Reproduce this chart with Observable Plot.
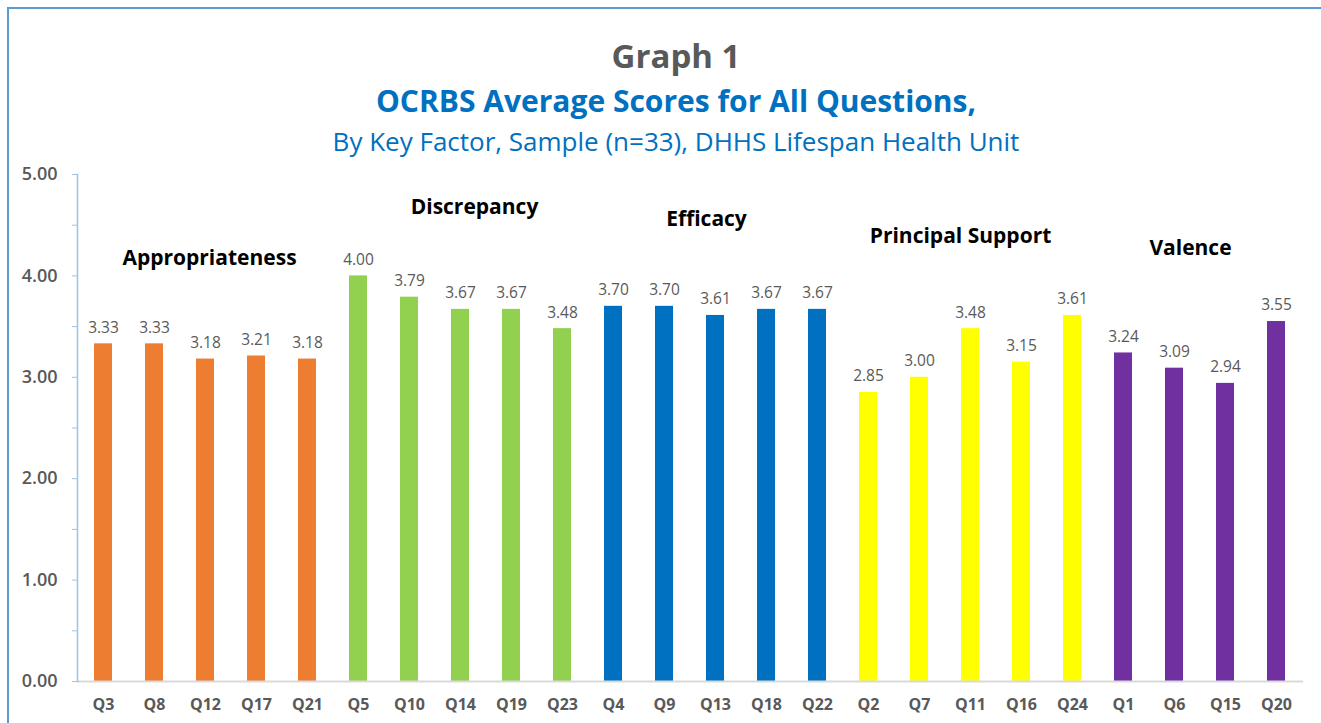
<!DOCTYPE html>
<html><head><meta charset="utf-8">
<script src="https://cdn.jsdelivr.net/npm/d3@7"></script>
<script src="https://cdn.jsdelivr.net/npm/@observablehq/plot@0.6"></script>
<style>
html,body{margin:0;padding:0;background:#fff;width:1321px;height:723px;overflow:hidden;font-family:"Open Sans",sans-serif;}
#wrap{position:relative;width:1321px;height:723px;}
#border{position:absolute;left:7px;top:7px;width:1330px;height:740px;border-top:2px solid #5B9BD5;border-left:2px solid #5B9BD5;box-sizing:border-box;}
.t{position:absolute;left:0;width:1352px;text-align:center;white-space:nowrap;line-height:1.2;}
#t1{top:36px;font-size:33px;font-weight:700;color:#595959;}
#t2{top:83px;font-size:30px;font-weight:700;color:#0070C0;}
#t3{top:126px;font-size:26px;font-weight:400;color:#0070C0;}
#chart{position:absolute;left:0;top:150px;}
</style></head>
<body><div id="wrap"><div id="border"></div>
<div class="t" id="t1">Graph 1</div>
<div class="t" id="t2">OCRBS Average Scores for All Questions,</div>
<div class="t" id="t3">By Key Factor, Sample (n=33), DHHS Lifespan Health Unit</div>
<div id="chart"></div></div>
<script>
const questions = ["Q3","Q8","Q12","Q17","Q21","Q5","Q10","Q14","Q19","Q23","Q4","Q9","Q13","Q18","Q22","Q2","Q7","Q11","Q16","Q24","Q1","Q6","Q15","Q20"];
const factors = ["Appropriateness","Appropriateness","Appropriateness","Appropriateness","Appropriateness","Discrepancy","Discrepancy","Discrepancy","Discrepancy","Discrepancy","Efficacy","Efficacy","Efficacy","Efficacy","Efficacy","Principal Support","Principal Support","Principal Support","Principal Support","Principal Support","Valence","Valence","Valence","Valence"];
const scores = [3.33,3.33,3.18,3.21,3.18,4.00,3.79,3.67,3.67,3.48,3.70,3.70,3.61,3.67,3.67,2.85,3.00,3.48,3.15,3.61,3.24,3.09,2.94,3.55];
const factorNames = ["Appropriateness","Discrepancy","Efficacy","Principal Support","Valence"];
const factorColors = ["#ED7D31","#92D050","#0070C0","#FFFF00","#7030A0"];
const labelAnchorQ = ["Q12","Q14","Q13","Q11","Q6"];
const labelOffset = [4,14,-9,-10,16];
const labelY = [4.17,4.68,4.56,4.39,4.27];
const yTicks = [0,0.5,1,1.5,2,2.5,3,3.5,4,4.5,5];

const data = questions.map((q,i)=>({q, factor: factors[i], score: scores[i]}));
const labels = factorNames.map((f,i)=>({f, q: labelAnchorQ[i], y: labelY[i], dx: labelOffset[i]}));

const chart = Plot.plot({
  width: 1321, height: 573,
  marginTop: 24, marginBottom: 42, marginLeft: 77, marginRight: 18,
  style: {fontFamily: "'Open Sans', sans-serif", background: "transparent"},
  x: {domain: questions, paddingInner: 0.64, paddingOuter: 0.32, label: null},
  y: {domain: [0,5], label: null},
  color: {domain: factorNames, range: factorColors},
  marks: [
    Plot.barY(data, {x: "q", y: "score", fill: "factor"}),
    Plot.ruleY([0], {stroke: "#D9D9D9", strokeWidth: 2}),
    Plot.frame({anchor: "left", stroke: "#9DC3E6", strokeWidth: 1.5}),
    Plot.axisY({ticks: yTicks, tickSize: 5, tickPadding: 15, stroke: "#9DC3E6",
      tickFormat: d => Number.isInteger(d) ? d.toFixed(2) : "",
      fontSize: 18, fontWeight: 600, fill: "#595959", label: null}),
    Plot.axisX({tickSize: 0, tickPadding: 17, fontSize: 16, fontWeight: 700, fill: "#595959", label: null}),
    Plot.text(data, {x: "q", y: "score", text: d => d.score.toFixed(2), dy: -16, fontSize: 15.5, fill: "#595959"}),
    ...labels.map(l => Plot.text([l], {x: "q", y: "y", text: "f", dx: l.dx, fontSize: 21, fontWeight: 700, fill: "#000"}))
  ]
});
document.getElementById("chart").appendChild(chart);
</script></body></html>
